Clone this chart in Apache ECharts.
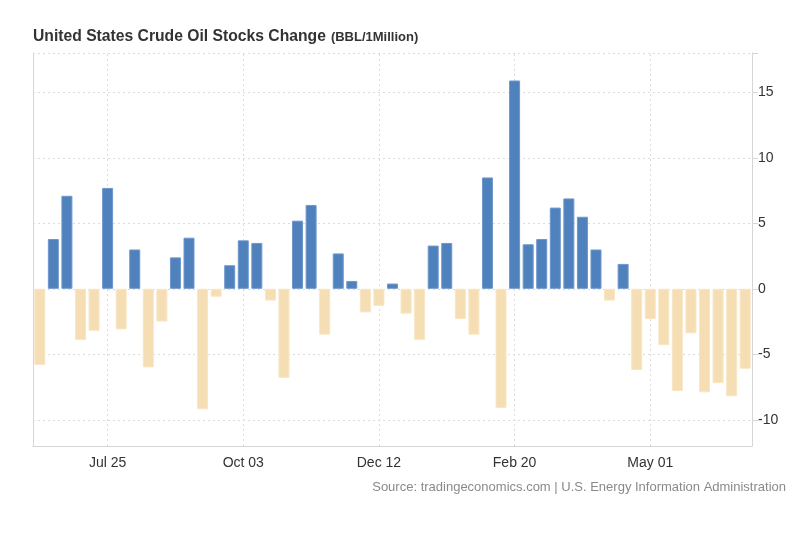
<!DOCTYPE html>
<html>
<head>
<meta charset="utf-8">
<script src="https://cdn.jsdelivr.net/npm/echarts@6/dist/echarts.min.js"></script>
<style>html,body{margin:0;padding:0;background:#fff}#c{width:800px;height:546px}</style>
</head>
<body>
<div id="c"></div>
<script>
var categories = ['Jun 20','Jun 27','Jul 04','Jul 11','Jul 18','Jul 25','Aug 01','Aug 08','Aug 15','Aug 22','Aug 29','Sep 05','Sep 12','Sep 19','Sep 26','Oct 03','Oct 10','Oct 17','Oct 24','Oct 31','Nov 07','Nov 14','Nov 21','Nov 28','Dec 05','Dec 12','Dec 19','Dec 26','Jan 02','Jan 09','Jan 16','Jan 23','Jan 30','Feb 06','Feb 13','Feb 20','Feb 27','Mar 06','Mar 13','Mar 20','Mar 27','Apr 03','Apr 10','Apr 17','Apr 24','May 01','May 08','May 15','May 22','May 29','Jun 05','Jun 12','Jun 19'];
var stockChange = [-5.8,3.8,7.1,-3.9,-3.2,7.7,-3.1,3.0,-6.0,-2.5,2.4,3.9,-9.2,-0.6,1.8,3.7,3.5,-0.9,-6.8,5.2,6.4,-3.5,2.7,0.6,-1.8,-1.3,0.4,-1.9,-3.9,3.3,3.5,-2.3,-3.5,8.5,-9.1,15.9,3.4,3.8,6.2,6.9,5.5,3.0,-0.9,1.9,-6.2,-2.3,-4.3,-7.8,-3.4,-7.9,-7.2,-8.2,-6.1];
var xTickLabels = ['Jul 25','Oct 03','Dec 12','Feb 20','May 01'];
var yTickValues = [-10,-5,0,5,10,15];
var yMin = -12, yMax = 18;

var gridColor = '#dcdcdc';
var markData = [];
yTickValues.concat([yMax]).forEach(function(v){ markData.push({yAxis: v}); });
xTickLabels.forEach(function(c){ markData.push({xAxis: c}); });

var FONT = 'Arial, "Liberation Sans", sans-serif';
var chart = echarts.init(document.getElementById('c'), null, {renderer:'canvas'});
chart.setOption({
  animation: false,
  backgroundColor: '#fff',
  textStyle: {fontFamily: FONT},
  title: {
    left: 33, top: 28, padding: 0,
    text: '{a|United States Crude Oil Stocks Change} {b|(BBL/1Million)}',
    textStyle: {
      rich: {
        a: {fontSize: 15.7, fontWeight: 'bold', color: '#333', fontFamily: FONT},
        b: {fontSize: 13, fontWeight: 'bold', color: '#333', fontFamily: FONT}
      }
    }
  },
  graphic: [{
    type: 'text', right: 14, top: 481,
    style: {text: 'Source: tradingeconomics.com | U.S. Energy Information Administration', fill: '#8a8a8a', font: '13px ' + FONT}
  }],
  grid: {left: 33, right: 48, top: 53, bottom: 100, containLabel: false},
  xAxis: {
    type: 'category',
    data: categories,
    boundaryGap: true,
    axisLine: {show: true, onZero: false, lineStyle: {color: '#d6d6d6'}},
    axisTick: {show: false},
    splitLine: {show: false},
    axisLabel: {
      color: '#333', fontSize: 14, margin: 10,
      interval: function(i, v){ return xTickLabels.indexOf(v) >= 0; }
    }
  },
  yAxis: [{
    type: 'value',
    position: 'right',
    min: yMin, max: yMax,
    axisLine: {show: true, lineStyle: {color: '#d6d6d6'}},
    axisTick: {show: true, length: 6, lineStyle: {color: '#d6d6d6'}, customValues: yTickValues.concat([yMax])},
    splitLine: {show: false},
    axisLabel: {color: '#333', fontSize: 14, margin: 6, customValues: yTickValues}
  }, {
    type: 'value',
    position: 'left',
    min: yMin, max: yMax,
    axisLine: {show: true, lineStyle: {color: '#d6d6d6'}},
    axisTick: {show: false},
    axisLabel: {show: false},
    splitLine: {show: false}
  }],
  series: [{
    type: 'line',
    data: [],
    z: 1,
    silent: true,
    markLine: {
      silent: true,
      symbol: 'none',
      label: {show: false},
      lineStyle: {color: gridColor, type: [2, 3], width: 1},
      data: markData,
      animation: false
    }
  }, {
    type: 'bar',
    z: 10,
    barWidth: 11,
    data: stockChange.map(function(v){
      return {
        value: v,
        itemStyle: v >= 0
          ? {color: '#4f81bd', borderColor: '#6f97cc', borderWidth: 1}
          : {color: '#f5deb3', borderColor: '#f8e6c4', borderWidth: 1}
      };
    })
  }]
});
</script>
</body>
</html>
